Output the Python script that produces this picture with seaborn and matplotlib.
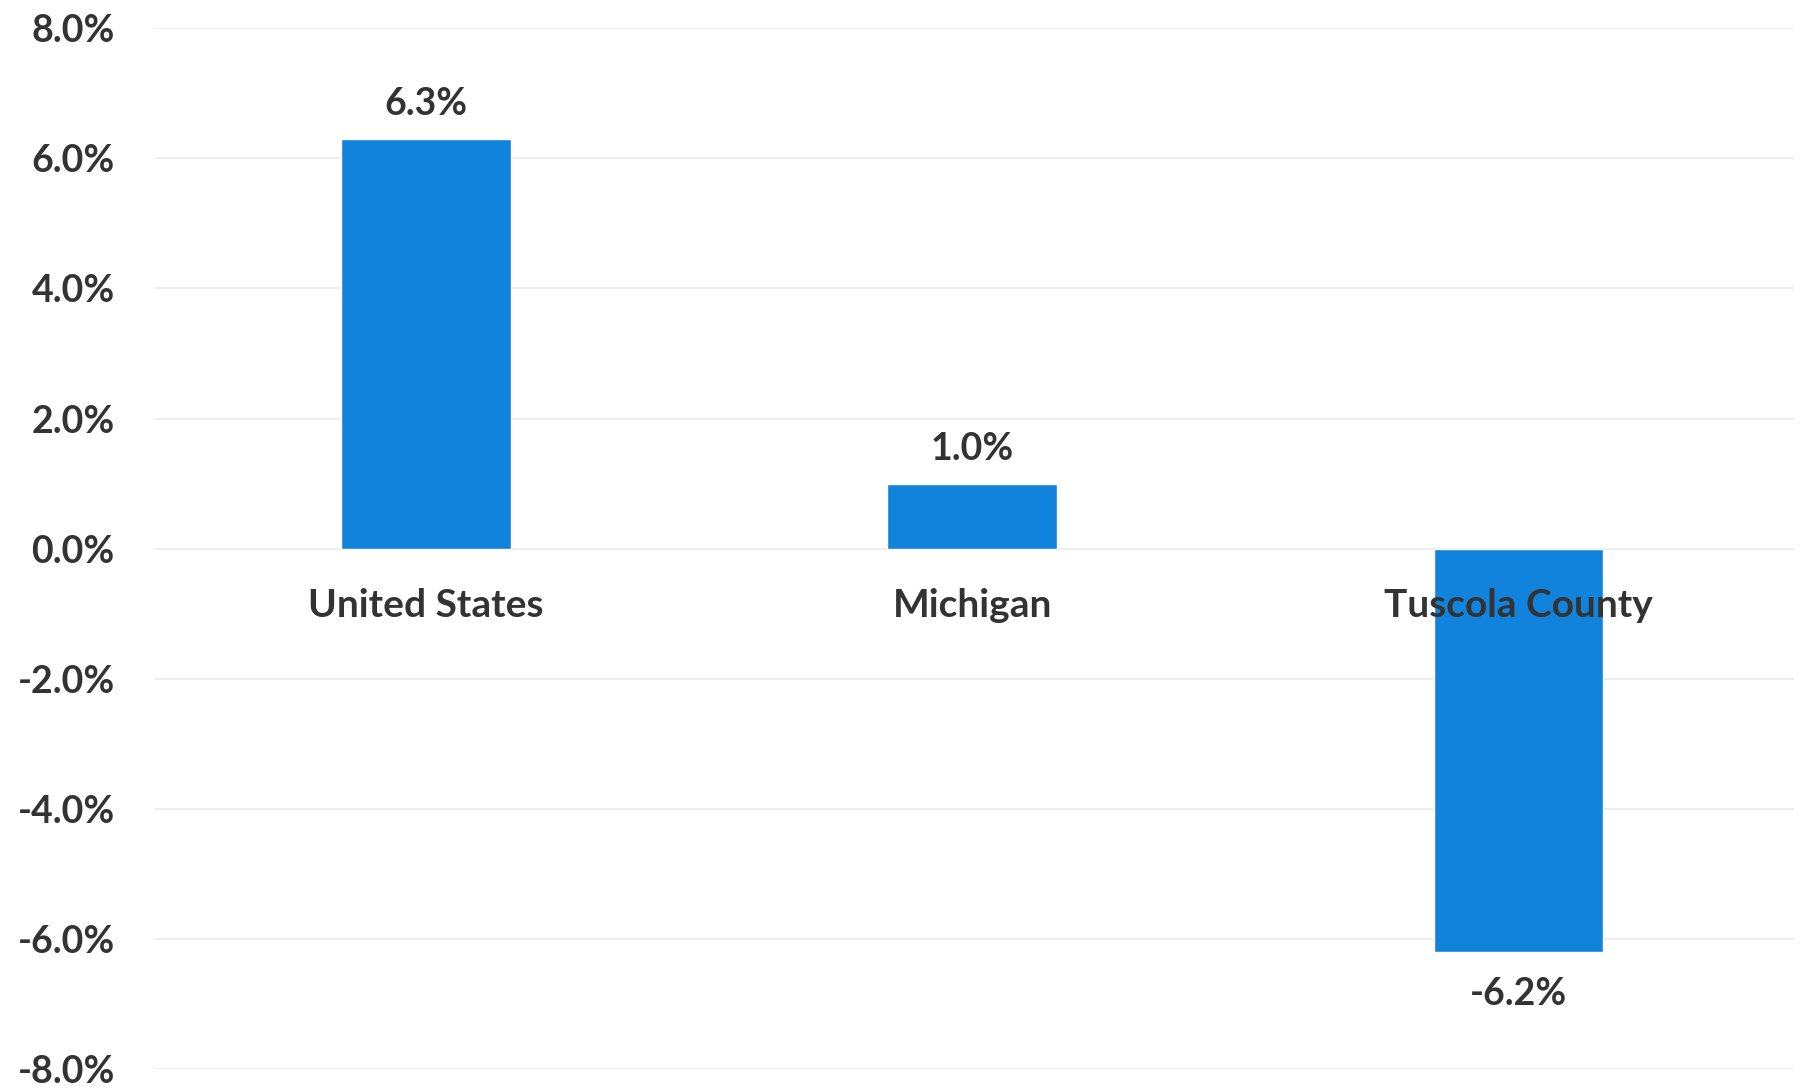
import seaborn as sns
import matplotlib.pyplot as plt
from matplotlib.ticker import FuncFormatter

regions = ['United States', 'Michigan', 'Tuscola County']
change_pct = [6.3, 1.0, -6.2]
value_labels = ['6.3%', '1.0%', '-6.2%']

text_col = '#333333'
bar_col = '#1283DC'

sns.set_theme(style='white')
plt.rcParams['font.family'] = ['Lato', 'DejaVu Sans']
plt.rcParams['font.weight'] = 'bold'

fig = plt.figure(figsize=(18.03, 10.88), dpi=100)
ax = fig.add_axes([0.086, 0.0175, 0.909, 0.9565])

sns.barplot(x=regions, y=change_pct, color=bar_col, saturation=1, width=0.31, ax=ax)

ax.set_ylim(-8, 8)
ax.set_xlim(-0.496, 2.505)
ax.set_yticks([-8, -6, -4, -2, 0, 2, 4, 6, 8])
ax.yaxis.set_major_formatter(FuncFormatter(lambda v, p: f'{v:.1f}%'))
ax.grid(axis='y', color='#EEEEEE', linewidth=1.5)
ax.set_axisbelow(True)
# keep category names above the bars (Tuscola label overlaps its bar)
ax.xaxis.set_zorder(3)

for s in ['left', 'right', 'top']:
    ax.spines[s].set_visible(False)
# category labels sit on the zero line
ax.spines['bottom'].set_position(('data', 0))
ax.spines['bottom'].set_visible(False)
ax.tick_params(axis='y', length=0, pad=29, labelsize=27, labelcolor=text_col)
ax.tick_params(axis='x', length=0, pad=28, labelsize=28, labelcolor=text_col)
for t in ax.get_xticklabels() + ax.get_yticklabels():
    t.set_fontweight('bold')

# value labels
for i, v in enumerate(change_pct):
    ax.annotate(value_labels[i], (i, v), xytext=(0, 13 if v > 0 else -18),
                textcoords='offset points', ha='center',
                va='bottom' if v > 0 else 'top',
                fontsize=27, fontweight='bold', color=text_col)

ax.set_xlabel('')
ax.set_ylabel('')
fig.savefig('out.png', dpi=100)
